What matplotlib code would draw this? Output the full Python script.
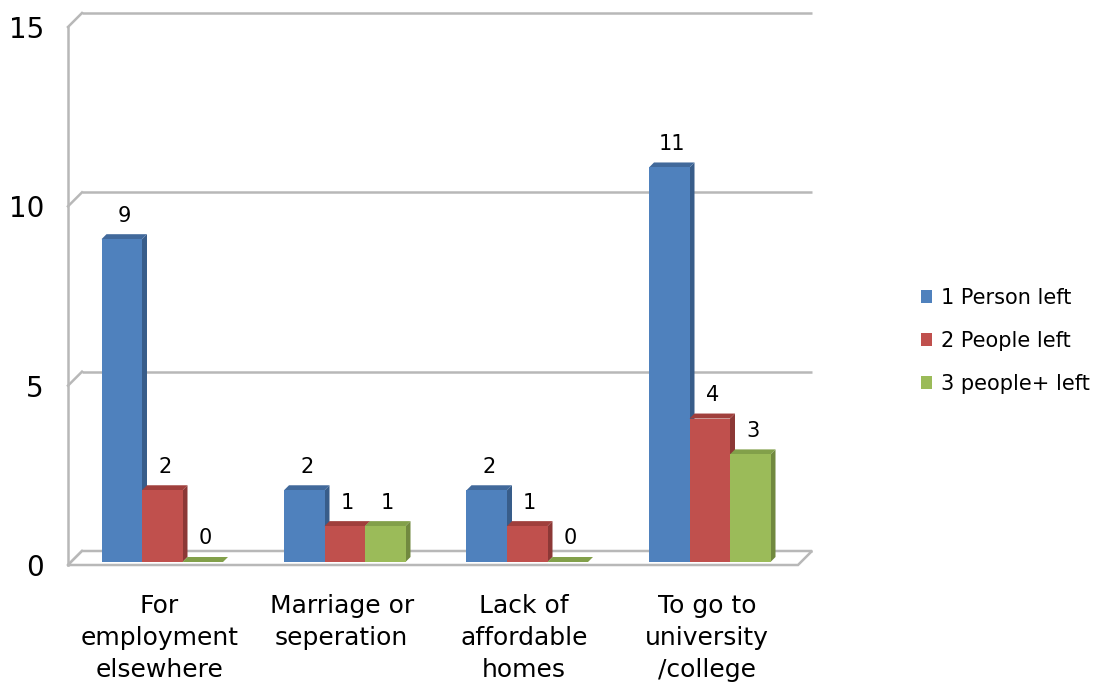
import matplotlib
matplotlib.use("Agg")
import matplotlib.pyplot as plt
from matplotlib.patches import Rectangle, Polygon, Patch

# reasons people left the household, count per group size
categories = ["For\nemployment\nelsewhere", "Marriage or\nseperation",
              "Lack of\naffordable\nhomes", "To go to\nuniversity\n/college"]
series_names = ["1 Person left", "2 People left", "3 people+ left"]
one_person = [9, 2, 2, 11]
two_people = [2, 1, 1, 4]
three_plus = [0, 1, 0, 3]
yticks = [0, 5, 10, 15]

face_cols = ["#4f81bd", "#c0504d", "#9bbb59"]
side_cols = ["#385d8a", "#8c3836", "#71893f"]
top_cols = ["#41699b", "#a03f3c", "#82a04a"]
grid_col = "#b8b8b8"

# pixel geometry of the front plane
PX_X = 182.5          # px per category
PX_Y = 538.0 / 15.0   # px per unit
FRONT_LEFT, FRONT_BASE = 68.0, 565.0
W_PX, H_PX = 1101, 686

wall_dx, wall_dy = 14 / PX_X, 14 / PX_Y     # depth of the back wall
bar_ox, bar_oy = 3 / PX_X, 3 / PX_Y         # bars sit a bit behind the front edge
bar_dx, bar_dy = 5 / PX_X, 5 / PX_Y         # bar depth
bar_w = 40.5 / PX_X

xlim = (-0.5 - 0.01, 3.5 + wall_dx + 0.02)
ylim = (-0.15, 15 + wall_dy + 0.1)

fig = plt.figure(figsize=(W_PX / 100, H_PX / 100), dpi=100)
left_px = FRONT_LEFT + (xlim[0] + 0.5) * PX_X
right_px = FRONT_LEFT + (xlim[1] + 0.5) * PX_X
bot_px = FRONT_BASE - ylim[0] * PX_Y
top_px = FRONT_BASE - ylim[1] * PX_Y
ax = fig.add_axes([left_px / W_PX, (H_PX - bot_px) / H_PX,
                   (right_px - left_px) / W_PX, (bot_px - top_px) / H_PX])
ax.set_xlim(*xlim)
ax.set_ylim(*ylim)
ax.patch.set_visible(False)
for s in ax.spines.values():
    s.set_visible(False)

# walls: back gridlines, left slants, left edge, floor
for v in yticks:
    ax.plot([-0.5 + wall_dx, 3.5 + wall_dx], [v + wall_dy, v + wall_dy],
            color=grid_col, lw=1.8, zorder=1, solid_capstyle="butt")
    ax.plot([-0.5, -0.5 + wall_dx], [v, v + wall_dy], color=grid_col, lw=1.8, zorder=1)
ax.plot([-0.5, -0.5], [0, 15], color=grid_col, lw=1.8, zorder=1)
floor = Polygon([(-0.5, 0), (3.5, 0), (3.5 + wall_dx, wall_dy), (-0.5 + wall_dx, wall_dy)],
                closed=True, facecolor="white", edgecolor=grid_col, lw=1.8, zorder=1)
ax.add_patch(floor)

data = [one_person, two_people, three_plus]
for j in range(len(categories)):
    for i, vals in enumerate(data):
        v = vals[j]
        x0 = j - 1.5 * bar_w + i * bar_w + bar_ox
        y0 = bar_oy
        z = 3 + j * 3 + i
        side = Polygon([(x0 + bar_w, y0), (x0 + bar_w + bar_dx, y0 + bar_dy),
                        (x0 + bar_w + bar_dx, y0 + v + bar_dy), (x0 + bar_w, y0 + v)],
                       closed=True, facecolor=side_cols[i], edgecolor="none", zorder=z)
        top = Polygon([(x0, y0 + v), (x0 + bar_dx, y0 + v + bar_dy),
                       (x0 + bar_w + bar_dx, y0 + v + bar_dy), (x0 + bar_w, y0 + v)],
                      closed=True, facecolor=top_cols[i], edgecolor="none", zorder=z)
        front = Rectangle((x0, y0), bar_w, v, facecolor=face_cols[i],
                          edgecolor="none", zorder=z)
        ax.add_patch(side)
        ax.add_patch(top)
        ax.add_patch(front)
        ax.annotate(str(v), xy=(x0 + (bar_w + bar_dx) / 2, y0 + v), xytext=(0, 17),
                    textcoords="offset points", ha="center", va="center",
                    fontsize=15, color="black", zorder=40)

ax.set_yticks(yticks)
ax.set_yticklabels([str(t) for t in yticks], fontsize=20)
ax.set_xticks(range(len(categories)))
ax.set_xticklabels(categories, fontsize=18, linespacing=1.42)
ax.tick_params(axis="y", length=0, pad=16)
ax.tick_params(axis="x", length=0, pad=17)

handles = [Patch(facecolor=c, edgecolor="none") for c in face_cols]
fig.legend(handles, series_names, loc="center left",
           bbox_to_anchor=(921 / W_PX, 1 - 341 / H_PX), frameon=False,
           fontsize=15, handlelength=0.55, handleheight=0.55, handletextpad=0.4,
           labelspacing=1.1, borderpad=0, borderaxespad=0)

fig.savefig("out.png", dpi=100)
